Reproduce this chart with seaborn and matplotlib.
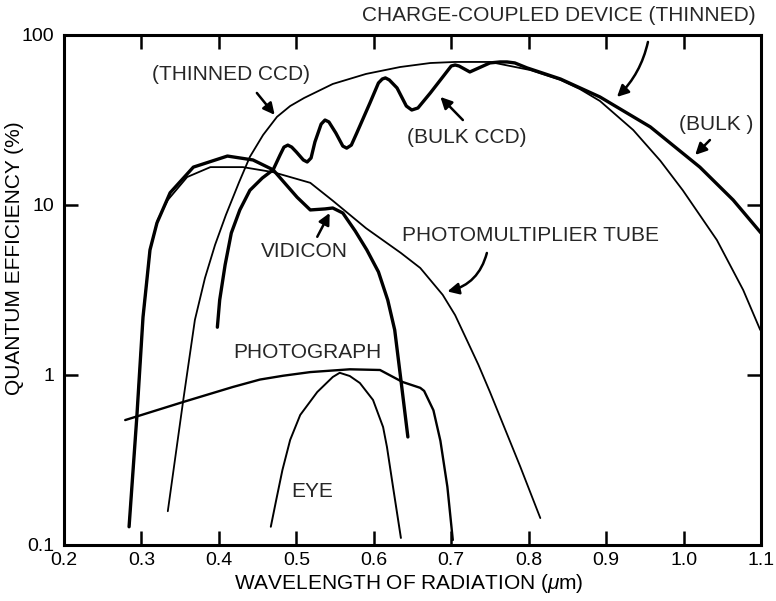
import numpy as np
import pandas as pd
import seaborn as sns
import matplotlib.pyplot as plt

# Curves (wavelength in micrometres, QE in %)
thinned_x = [0.334, 0.354, 0.369, 0.382, 0.395, 0.409, 0.426, 0.440, 0.457, 0.475, 0.492, 0.510,
             0.547, 0.590, 0.634, 0.673, 0.705, 0.750, 0.802, 0.841, 0.866, 0.892, 0.935, 0.970,
             0.999, 1.043, 1.077, 1.099]
thinned_y = [0.158, 0.713, 2.11, 3.72, 5.82, 8.73, 13.6, 19.2, 25.8, 33.0, 38.2, 42.6,
             51.5, 59.0, 64.8, 68.4, 69.4, 69.4, 62.2, 54.4, 48.1, 40.9, 27.6, 18.2,
             12.2, 6.22, 3.16, 1.84]

bulk_x = [0.398, 0.401, 0.408, 0.416, 0.427, 0.440, 0.456, 0.470, 0.479, 0.484, 0.489, 0.494,
          0.500, 0.509, 0.514, 0.519, 0.524, 0.532, 0.537, 0.542, 0.551, 0.560, 0.565, 0.571,
          0.578, 0.595, 0.606, 0.611, 0.615, 0.620, 0.630, 0.642, 0.649, 0.657, 0.673, 0.689,
          0.700, 0.705, 0.710, 0.724, 0.750, 0.763, 0.772, 0.782, 0.798, 0.841, 0.892, 0.957,
          1.021, 1.064, 1.1]
bulk_y = [1.91, 2.76, 4.44, 6.84, 9.35, 12.2, 14.4, 16.1, 19.7, 21.9, 22.5, 21.9,
          20.5, 18.4, 17.9, 18.9, 23.5, 29.9, 31.6, 30.8, 26.5, 22.2, 21.6, 22.5,
          26.5, 39.8, 52.2, 55.1, 55.9, 54.4, 48.8, 38.2, 36.2, 37.2, 45.6, 56.6,
          65.7, 66.6, 65.7, 60.6, 68.5, 69.4, 69.4, 68.5, 64.0, 55.1, 43.2, 28.8,
          16.7, 10.7, 6.84]

vidicon_x = [0.284, 0.294, 0.302, 0.307, 0.311, 0.320, 0.337, 0.367, 0.411, 0.444, 0.470, 0.501,
             0.518, 0.537, 0.547, 0.560, 0.576, 0.591, 0.606, 0.618, 0.627, 0.635, 0.644]
vidicon_y = [0.128, 0.566, 2.19, 3.62, 5.44, 7.84, 11.8, 16.7, 19.4, 18.4, 16.1, 11.1,
             9.35, 9.48, 9.6, 8.97, 7.03, 5.44, 4.04, 2.76, 1.84, 0.935, 0.432]

pmt_x = [0.284, 0.294, 0.302, 0.311, 0.321, 0.334, 0.359, 0.389, 0.431, 0.470, 0.518, 0.547,
         0.590, 0.635, 0.660, 0.689, 0.705, 0.720, 0.735, 0.750, 0.789, 0.815]
pmt_y = [0.128, 0.566, 2.19, 5.44, 8.17, 10.7, 14.6, 16.7, 16.7, 15.6, 13.5, 10.6,
         7.3, 5.22, 4.26, 2.96, 2.25, 1.61, 1.15, 0.794, 0.29, 0.144]

photo_x = [0.279, 0.354, 0.418, 0.453, 0.483, 0.518, 0.569, 0.608, 0.637, 0.660, 0.665, 0.677,
           0.686, 0.695, 0.702]
photo_y = [0.543, 0.694, 0.85, 0.94, 0.99, 1.04, 1.08, 1.07, 0.91, 0.84, 0.806, 0.62,
           0.41, 0.22, 0.107]

eye_x = [0.467, 0.474, 0.482, 0.492, 0.505, 0.527, 0.547, 0.556, 0.569, 0.582, 0.599, 0.612,
         0.617, 0.625, 0.635]
eye_y = [0.128, 0.184, 0.276, 0.415, 0.582, 0.794, 0.973, 1.03, 0.986, 0.897, 0.713, 0.494,
         0.377, 0.217, 0.11]

x_ticks = [0.2, 0.3, 0.4, 0.5, 0.6, 0.7, 0.8, 0.9, 1.0, 1.1]
x_tick_labels = ['0.2', '0.3', '0.4', '0.5', '0.6', '0.7', '0.8', '0.9', '1.0', '1.1']
y_ticks = [0.1, 1, 10, 100]
y_tick_labels = ['0.1', '1', '10', '100']

sns.set_theme(style='ticks')
plt.rcParams['font.family'] = ['Liberation Sans', 'DejaVu Sans']
plt.rcParams['mathtext.fontset'] = 'custom'
plt.rcParams['mathtext.it'] = 'Liberation Sans:italic'

fig = plt.figure(figsize=(7.76, 6.01), dpi=100)
ax = fig.add_axes([0.0825, 0.0932, 0.8982, 0.8486])

# (x, y, linewidth)
curves = [
    (thinned_x, thinned_y, 1.3),
    (bulk_x, bulk_y, 2.4),
    (vidicon_x, vidicon_y, 2.4),
    (pmt_x, pmt_y, 1.3),
    (photo_x, photo_y, 1.7),
    (eye_x, eye_y, 1.4),
]
for cx, cy, lw in curves:
    sns.lineplot(x=cx, y=cy, ax=ax, color='black', linewidth=lw, sort=False)

ax.set_yscale('log')
ax.set_xlim(0.2, 1.1)
ax.set_ylim(0.1, 100)
ax.set_xticks(x_ticks)
ax.set_xticklabels(x_tick_labels)
ax.set_yticks(y_ticks)
ax.set_yticklabels(y_tick_labels)
ax.minorticks_off()
ax.tick_params(axis='both', direction='in', length=10, width=1.8, labelsize=14,
               top=True, right=True, color='black', labelcolor='black')
ax.tick_params(axis='x', pad=5)
ax.tick_params(axis='y', pad=7)
for s in ax.spines.values():
    s.set_linewidth(2.2)
    s.set_color('black')

ax.set_xlabel(r'WAVELENGTH OF RADIATION ($\mathit{\mu}$m)', fontsize=15, color='black', va='top')
ax.set_ylabel('QUANTUM EFFICIENCY (%)', fontsize=15, color='black')
ax.xaxis.set_label_coords(0.495, -0.052)
ax.yaxis.set_label_coords(-0.058, 0.563)

fs = 15
ax.text(0.839, 131, 'CHARGE-COUPLED DEVICE (THINNED)', fontsize=fs, ha='center', va='center', clip_on=False)
ax.text(0.416, 58.2, '(THINNED CCD)', fontsize=fs, ha='center', va='center')
ax.text(0.720, 24.8, '(BULK CCD)', fontsize=fs, ha='center', va='center')
ax.text(1.042, 29.6, '(BULK )', fontsize=fs, ha='center', va='center')
ax.text(0.511, 5.29, 'VIDICON', fontsize=fs, ha='center', va='center')
ax.text(0.802, 6.57, 'PHOTOMULTIPLIER TUBE', fontsize=fs, ha='center', va='center')
ax.text(0.514, 1.365, 'PHOTOGRAPH', fontsize=fs, ha='center', va='center')
ax.text(0.521, 0.205, 'EYE', fontsize=fs, ha='center', va='center')

# arrows: (tail, tip, curvature)
arrows = [
    ((0.954, 91), (0.914, 43.2), -0.15),
    ((0.449, 45.6), (0.472, 33.9), 0.0),
    ((0.715, 31.6), (0.686, 43.2), 0.0),
    ((1.034, 24.1), (1.015, 19.7), 0.0),
    ((0.527, 6.5), (0.543, 8.97), 0.0),
    ((0.746, 5.22), (0.695, 3.1), -0.3),
]
for tail, tip, rad in arrows:
    ax.annotate('', xy=tip, xytext=tail, annotation_clip=False,
                arrowprops=dict(arrowstyle='-|>', color='black', lw=1.8, mutation_scale=17,
                                shrinkA=0, shrinkB=0, connectionstyle=f'arc3,rad={rad}'))

fig.savefig('out.png', dpi=100)
